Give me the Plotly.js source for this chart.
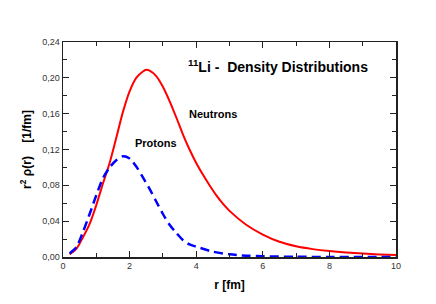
<!DOCTYPE html>
<html>
<head>
<meta charset="utf-8">
<script src="https://cdn.plot.ly/plotly-3.0.1.min.js"></script>
<style>html,body{margin:0;padding:0;background:#fff;}#chart{width:436px;height:304px;}</style>
</head>
<body>
<div id="chart"></div>
<script>
const rNeutrons = [0.2,0.4,0.6,0.8,1.0,1.2,1.4,1.6,1.8,2.0,2.2,2.4,2.5,2.6,2.8,3.0,3.2,3.4,3.6,3.8,4.0,4.2,4.4,4.6,4.8,5.0,5.5,6.0,6.5,7.0,7.5,8.0,8.5,9.0,9.5,10.0];
const neutrons  = [0.003,0.009,0.022,0.037,0.058,0.082,0.105,0.133,0.162,0.185,0.200,0.207,0.209,0.208,0.202,0.190,0.174,0.156,0.137,0.120,0.105,0.092,0.080,0.069,0.0595,0.0515,0.036,0.025,0.017,0.012,0.0088,0.0066,0.005,0.0038,0.0029,0.0022];
const rProtons = [0.2,0.4,0.6,0.8,1.0,1.2,1.4,1.6,1.8,2.0,2.2,2.4,2.6,2.8,3.0,3.2,3.4,3.6,3.8,4.0,4.5,5.0,5.5,6.0,7.0,8.0,9.0,10.0];
const protons  = [0.004,0.011,0.028,0.048,0.069,0.088,0.100,0.108,0.1125,0.110,0.101,0.089,0.076,0.062,0.048,0.036,0.027,0.019,0.014,0.0115,0.006,0.003,0.0015,0.0008,0.0002,0.0001,0.00005,0.0];
const xTicks = [0,2,4,6,8,10];
const yTicks = [0,0.04,0.08,0.12,0.16,0.20,0.24];

const font = "Liberation Sans, Arial, sans-serif";
const traces = [
  {x: rNeutrons, y: neutrons, mode: 'lines', name: 'Neutrons',
   line: {color: '#ff0000', width: 2, shape: 'spline', smoothing: 0.8}},
  {x: rProtons, y: protons, mode: 'lines', name: 'Protons',
   line: {color: '#0000ff', width: 2.5, dash: '9px,5px', shape: 'spline', smoothing: 0.8}}
];
const axisCommon = {
  showgrid: false, zeroline: false, showline: true, linecolor: '#222', linewidth: 1.5,
  mirror: 'ticks', ticks: 'inside', ticklen: 6, tickwidth: 1.2, tickcolor: '#222',
  tickfont: {family: font, size: 9, color: '#333'}
};
const layout = {
  width: 436, height: 304,
  margin: {l: 63, r: 40, t: 42, b: 47},
  paper_bgcolor: '#fff', plot_bgcolor: '#fff',
  showlegend: false,
  separators: ',.',
  xaxis: Object.assign({}, axisCommon, {
    range: [0, 10], tickvals: xTicks, ticktext: xTicks.map(String),
    minor: {dtick: 1, ticks: 'inside', ticklen: 4, tickcolor: '#222', tickwidth: 1},
    title: {text: '<b>r [fm]</b>', font: {family: font, size: 12, color: '#000'}, standoff: 10}
  }),
  yaxis: Object.assign({}, axisCommon, {
    range: [0, 0.24], tickvals: yTicks, tickformat: '.2f',
    minor: {dtick: 0.02, ticks: 'inside', ticklen: 4, tickcolor: '#222', tickwidth: 1},
    title: {text: '<b>r<sup>2</sup> ρ(r)&nbsp;&nbsp;&nbsp;&nbsp;[1/fm]</b>', font: {family: font, size: 12, color: '#000'}, standoff: 8}
  }),
  annotations: [
    {x: 6.47, y: 0.213, xref: 'x', yref: 'y', text: '<b><sup>11</sup>Li -&nbsp;&nbsp;Density Distributions</b>',
     showarrow: false, font: {family: font, size: 14, color: '#000'}},
    {x: 4.51, y: 0.160, xref: 'x', yref: 'y', text: '<b>Neutrons</b>',
     showarrow: false, font: {family: font, size: 11, color: '#000'}},
    {x: 2.79, y: 0.127, xref: 'x', yref: 'y', text: '<b>Protons</b>',
     showarrow: false, font: {family: font, size: 11, color: '#000'}}
  ]
};
Plotly.newPlot('chart', traces, layout, {displayModeBar: false, staticPlot: true});
</script>
</body>
</html>
